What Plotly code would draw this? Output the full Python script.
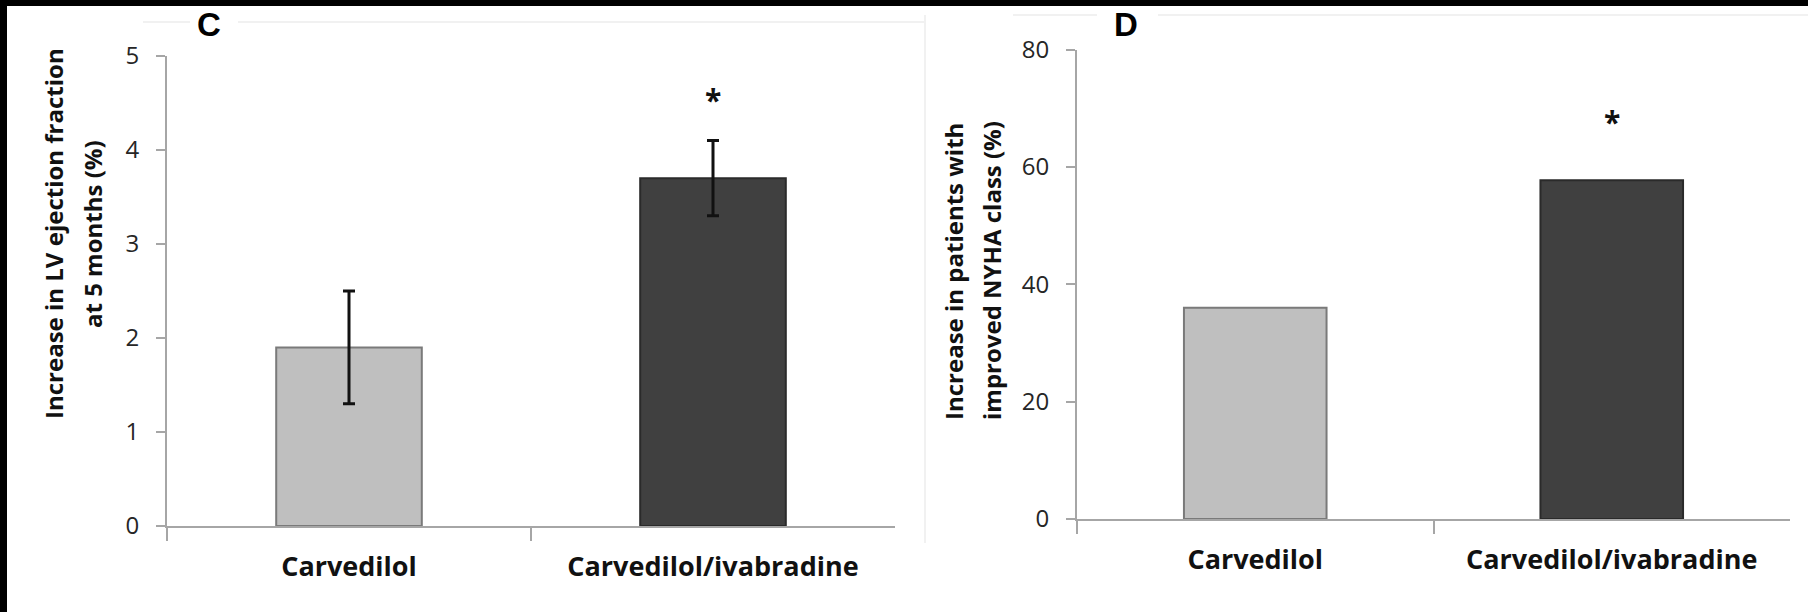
import plotly.graph_objects as go

# ---------------- data ----------------
categories = ["Carvedilol", "Carvedilol/ivabradine"]
lvef_increase = [1.9, 3.7]          # panel C (%)
lvef_error = [0.6, 0.4]             # panel C error bars
nyha_increase = [36.0, 57.7]        # panel D (%)
bar_colors = ["#bfbfbf", "#404040"]
bar_borders = ["#7a7a7a", "#2a2a2a"]
c_yticks = [0, 1, 2, 3, 4, 5]
d_yticks = [0, 20, 40, 60, 80]
c_star_y = 4.56
d_star_y = 68.0

W, H = 1808, 612
def px(x):
    return x / W
def py(y):
    return (H - y) / H

AX = "#a6a6a6"
TXT = "#262626"
FONT = "Open Sans"

fig = go.Figure()
fig.add_trace(go.Bar(
    x=categories, y=lvef_increase, width=0.4,
    marker=dict(color=bar_colors, line=dict(color=bar_borders, width=2)),
    error_y=dict(type="data", array=lvef_error, visible=True,
                 color="#111111", thickness=3, width=6),
    xaxis="x", yaxis="y", showlegend=False, hoverinfo="skip"))
fig.add_trace(go.Bar(
    x=categories, y=nyha_increase, width=0.4,
    marker=dict(color=bar_colors, line=dict(color=bar_borders, width=2)),
    xaxis="x2", yaxis="y2", showlegend=False, hoverinfo="skip"))

common_x = dict(type="category", range=[-0.5, 1.5], showline=True, linecolor=AX,
                linewidth=2, ticks="outside", tickson="boundaries", ticklen=13,
                tickcolor=AX, tickwidth=2, showgrid=False, zeroline=False,
                tickfont=dict(family=FONT, size=27, color="#111111", weight="bold"),
                ticklabelstandoff=16, fixedrange=True, automargin=False)
common_y = dict(showline=True, linecolor=AX, linewidth=2, ticks="outside",
                ticklen=9, tickcolor=AX, tickwidth=2, showgrid=False,
                zeroline=False, tickfont=dict(family=FONT, size=24, color=TXT),
                ticklabelstandoff=12, fixedrange=True, automargin=False)

fig.update_layout(
    template="none",
    width=W, height=H,
    margin=dict(l=0, r=0, t=0, b=0, pad=0, autoexpand=False),
    paper_bgcolor="white", plot_bgcolor="white",
    bargap=0.6,
    xaxis=dict(domain=[px(167), px(895)], anchor="y", **common_x),
    yaxis=dict(domain=[py(526), py(56)], anchor="x", range=[0, 5],
               tickvals=c_yticks, **common_y),
    xaxis2=dict(domain=[px(1077), px(1790)], anchor="y2", **common_x),
    yaxis2=dict(domain=[py(519), py(49.5)], anchor="x2", range=[0, 80],
                tickvals=d_yticks, **common_y),
)

ann = []
# asterisks
ann.append(dict(x=categories[1], y=c_star_y, xref="x", yref="y", text="*",
                showarrow=False, yanchor="middle", yshift=-2,
                font=dict(family=FONT, size=30, color="#111111", weight="bold")))
ann.append(dict(x=categories[1], y=d_star_y, xref="x2", yref="y2", text="*",
                showarrow=False, yanchor="middle", yshift=-2,
                font=dict(family=FONT, size=30, color="#111111", weight="bold")))
# y titles (two lines each)
tfont = dict(family=FONT, size=24, color="#111111", weight="bold")
for x, y, t in [(54, 234, "Increase in LV ejection fraction"),
                (93, 234, "at 5 months (%)"),
                (953, 271, "Increase in patients with"),
                (991, 270, "improved NYHA class (%)")]:
    ann.append(dict(x=px(x), y=py(y), xref="paper", yref="paper", text=t,
                    textangle=-90, showarrow=False, xanchor="center",
                    yanchor="middle", font=tfont))
# panel letters
for x, t in [(208.5, "C"), (1126, "D")]:
    ann.append(dict(x=px(x), y=py(24.5), xref="paper", yref="paper", text=t,
                    showarrow=False, xanchor="center", yanchor="middle",
                    font=dict(family="Liberation Sans", size=33, color="#000000",
                              weight="bold")))
fig.update_layout(annotations=ann)

shapes = []
faint = dict(color="#f1f1f1", width=2)
for x0, x1, y in [(143, 190, 22), (238, 925, 22), (1013, 1097, 15), (1158, 1808, 15)]:
    shapes.append(dict(type="line", xref="paper", yref="paper", x0=px(x0), x1=px(x1),
                       y0=py(y), y1=py(y), line=faint))
shapes.append(dict(type="line", xref="paper", yref="paper", x0=px(925), x1=px(925),
                   y0=py(15), y1=py(543), line=faint))
# black scan borders
shapes.append(dict(type="rect", xref="paper", yref="paper", x0=0, x1=1,
                   y0=py(6), y1=1, fillcolor="black", line=dict(width=0)))
shapes.append(dict(type="rect", xref="paper", yref="paper", x0=0, x1=px(7),
                   y0=0, y1=1, fillcolor="black", line=dict(width=0)))
fig.update_layout(shapes=shapes)

fig.write_html("out.html")
